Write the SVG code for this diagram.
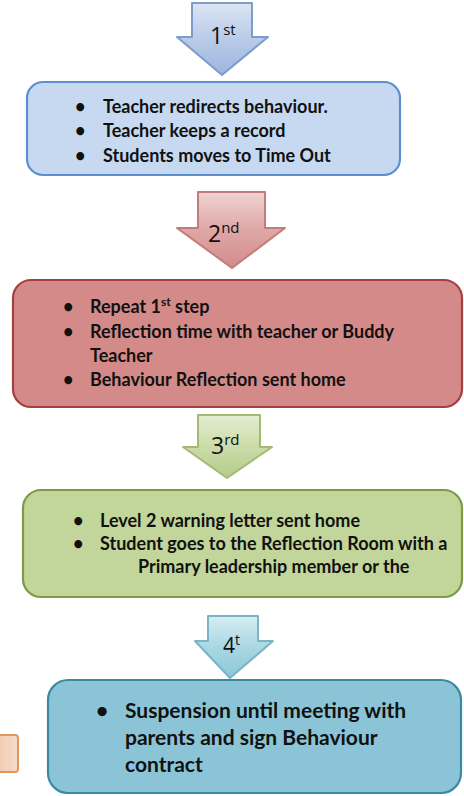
<svg xmlns="http://www.w3.org/2000/svg" width="464" height="796" viewBox="0 0 464 796">
<defs>
<style>
.t{font-family:Lato,"Liberation Sans",sans-serif;font-weight:bold;fill:#111}
.a{font-family:"Open Sans","DejaVu Sans",sans-serif;fill:#111}
.box{stroke-width:2.2}
</style>
<linearGradient id="g1" x1="0" y1="0" x2="0" y2="1"><stop offset="0" stop-color="#dbe5f3"/><stop offset="0.5" stop-color="#b9cbe8"/><stop offset="1" stop-color="#9db5dc"/></linearGradient>
<linearGradient id="g2" x1="0" y1="0" x2="0" y2="1"><stop offset="0" stop-color="#f0d3d2"/><stop offset="0.5" stop-color="#dfa7a6"/><stop offset="1" stop-color="#d38c8b"/></linearGradient>
<linearGradient id="g3" x1="0" y1="0" x2="0" y2="1"><stop offset="0" stop-color="#e4edd2"/><stop offset="0.5" stop-color="#cbdca9"/><stop offset="1" stop-color="#b5cb8a"/></linearGradient>
<linearGradient id="g4" x1="0" y1="0" x2="0" y2="1"><stop offset="0" stop-color="#d6edf3"/><stop offset="0.5" stop-color="#aad7e3"/><stop offset="1" stop-color="#8cc7d7"/></linearGradient>
<linearGradient id="g5" x1="0" y1="0" x2="1" y2="0"><stop offset="0" stop-color="#eebb9a"/><stop offset="1" stop-color="#f7dccb"/></linearGradient>
</defs>
<rect width="464" height="796" fill="#fff"/>

<g id="connectors">
  <g id="arrow1">
    <path d="M192,3 H252 V37 H268 L222,75 L177,37 H192 Z" fill="url(#g1)" stroke="#7d9bcb" stroke-width="2" stroke-linejoin="round"/>
    <text class="a" x="210" y="44" font-size="23">1<tspan font-size="15" dy="-9">st</tspan></text>
  </g>
  <g id="arrow2">
    <path d="M198,192 H265 V228 H285 L232,268 L177,228 H198 Z" fill="url(#g2)" stroke="#c27c7b" stroke-width="2" stroke-linejoin="round"/>
    <text class="a" x="208" y="242" font-size="23">2<tspan font-size="15" dy="-9">nd</tspan></text>
  </g>
  <g id="arrow3">
    <path d="M198,415 H260 V447 H272 L227,478 L183,447 H198 Z" fill="url(#g3)" stroke="#a2ba74" stroke-width="2" stroke-linejoin="round"/>
    <text class="a" x="211" y="454" font-size="23">3<tspan font-size="15" dy="-9">rd</tspan></text>
  </g>
  <g id="arrow4">
    <path d="M208,616 H258 V641 H273 L230,678 L195,641 H208 Z" fill="url(#g4)" stroke="#7ab4c5" stroke-width="2" stroke-linejoin="round"/>
    <text class="a" x="223" y="653" font-size="21">4<tspan font-size="14" dy="-8">t</tspan></text>
  </g>
</g>

<g id="step1">
  <rect class="box" x="27" y="82" width="373" height="93" rx="16" fill="#c6d9f0" stroke="#5b8fd1"/>
  <text class="t" font-size="18">
    <tspan x="75" y="113">•</tspan><tspan x="103" y="113">Teacher redirects behaviour.</tspan>
    <tspan x="75" y="137">•</tspan><tspan x="103" y="137">Teacher keeps a record</tspan>
    <tspan x="75" y="162">•</tspan><tspan x="103" y="162">Students moves to Time Out</tspan>
  </text>
</g>

<g id="step2">
  <rect class="box" x="13" y="280" width="449" height="127" rx="18" fill="#d48a89" stroke="#a2423f"/>
  <text class="t" font-size="18">
    <tspan x="63" y="313">•</tspan><tspan x="90" y="313">Repeat 1<tspan font-size="12" dy="-7">st</tspan><tspan dy="7"> step</tspan></tspan>
    <tspan x="63" y="338">•</tspan><tspan x="90" y="338">Reflection time with teacher or Buddy</tspan>
    <tspan x="90" y="362">Teacher</tspan>
    <tspan x="63" y="386">•</tspan><tspan x="90" y="386">Behaviour Reflection sent home</tspan>
  </text>
</g>

<g id="step3">
  <rect class="box" x="23" y="490" width="439" height="107" rx="18" fill="#c2d69b" stroke="#7e9a48"/>
  <text class="t" font-size="18">
    <tspan x="73" y="527">•</tspan><tspan x="100" y="527">Level 2 warning letter sent home</tspan>
    <tspan x="73" y="550">•</tspan><tspan x="100" y="550">Student goes to the Reflection Room with a</tspan>
    <tspan x="138" y="573">Primary leadership member or the</tspan>
  </text>
</g>

<g id="side-box">
  <rect x="-20" y="735" width="38" height="37" rx="3" fill="url(#g5)" stroke="#e3955f" stroke-width="2"/>
</g>

<g id="step4">
  <rect class="box" x="48" y="680" width="413" height="113" rx="20" fill="#8bc4d6" stroke="#3a8aa2"/>
  <text class="t" font-size="21">
    <tspan x="96" y="718">•</tspan><tspan x="125" y="718">Suspension until meeting with</tspan>
    <tspan x="125" y="745">parents and sign Behaviour</tspan>
    <tspan x="125" y="772">contract</tspan>
  </text>
</g>
</svg>
